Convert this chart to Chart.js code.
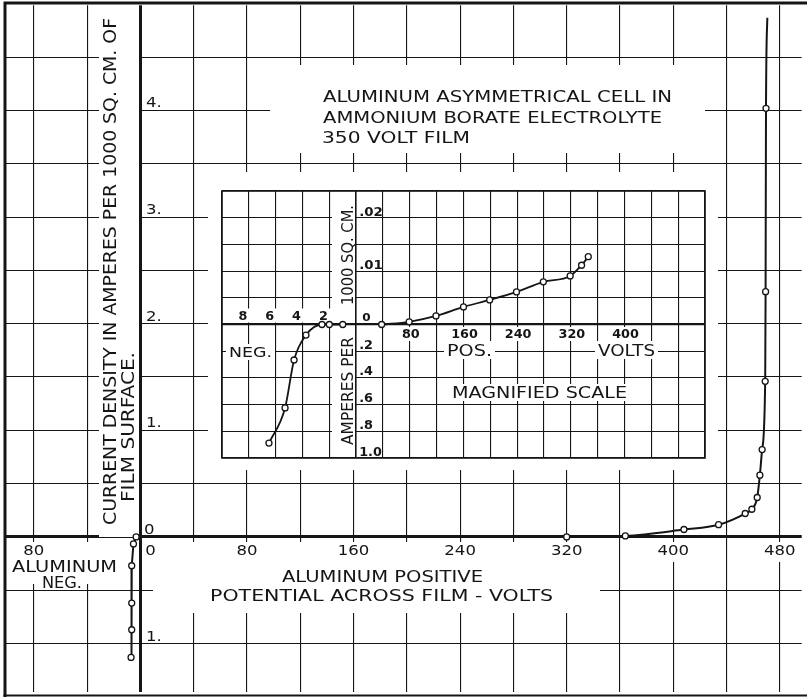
<!DOCTYPE html>
<html>
<head>
<meta charset="utf-8">
<script src="https://cdn.jsdelivr.net/npm/chart.js@4.4.1/dist/chart.umd.min.js"></script>
<style>
  html, body { margin: 0; padding: 0; background: #fff; }
  #wrap { position: relative; width: 807px; height: 697px; overflow: hidden; background: #fff; }
  #wrap canvas { position: absolute; }
  #main { left: 0; top: 0; }
  #inset { left: 208px; top: 172px; }
</style>
</head>
<body>
<div id="wrap">
  <canvas id="main" width="807" height="697"></canvas>
  <canvas id="inset" width="510" height="298"></canvas>
</div>
<script>
// ============================================================
// Aluminum asymmetrical cell — current density vs. film potential
// Main plot + magnified-scale inset
// ============================================================

const FONT = '"DejaVu Sans", sans-serif';
const INK = '#151515';

// ── DATA — main curve (volts across film, amperes per 1000 sq. cm.) ──
const posVolts = [320, 364, 408, 434, 454, 459, 463, 465, 466.7, 469.0, 469.3, 469.6, 470.6];
const posAmps  = [0, 0.01, 0.07, 0.115, 0.22, 0.26, 0.37, 0.58, 0.82, 1.46, 2.30, 4.02, 4.87];

// aluminum negative side (plotted to the left / below)
const negVolts = [3.2, 5.2, 6.5, 6.5, 6.5, 7.0];
const negAmps  = [0, 0.065, 0.27, 0.62, 0.87, 1.13];

// ── DATA — magnified scale inset ──
const insetPosVolts = [38, 79, 119, 160, 199, 239, 279, 319, 336, 346];
const insetPosAmps  = [0, 0.0005, 0.0016, 0.0033, 0.0046, 0.0061, 0.0080, 0.0091, 0.0111, 0.0127];
const insetNegVolts = [6.5, 5.3, 4.63, 3.74, 2.55, 2.0, 1.0];
const insetNegAmps  = [0.888, 0.625, 0.266, 0.079, 0, 0, 0];

// negative side of the inset is drawn at a different magnification
const NEG_V_MAG = 20;   // 1 neg. volt spans the room of 20 pos. volts
const NEG_A_DIV = 40;   // 1 neg. ampere spans the room of 1/40 pos. ampere

// ── TICK LABELS ──
const mainXTicks  = [-80, 0, 80, 160, 240, 320, 400, 480];
const mainXLabels = ['80', '0', '80', '160', '240', '320', '400', '480'];
const mainYTicks  = [4, 3, 2, 1, 0, -1];
const mainYLabels = ['4.', '3.', '2.', '1.', '0', '1.'];

const insetNegTicks  = [8, 6, 4, 2];
const insetPosTicks  = [80, 160, 240, 320, 400];
const insetUpTicks   = [0.02, 0.01];
const insetUpLabels  = ['.02', '.01'];
const insetDownTicks  = [0.2, 0.4, 0.6, 0.8, 1.0];
const insetDownLabels = ['.2', '.4', '.6', '.8', '1.0'];

const INSET_LEFT = 208, INSET_TOP = 172;

// ── text helpers (lettering is wide, so fit each string to its box) ──
function capText(ctx, str, x0, x1, yTop, yBot, bold) {
  const cap = yBot - yTop;
  ctx.font = (bold ? 'bold ' : '') + (cap / 0.73).toFixed(2) + 'px ' + FONT;
  const w = ctx.measureText(str).width;
  ctx.save();
  ctx.translate(x0, yBot);
  ctx.scale((x1 - x0) / w, 1);
  ctx.textAlign = 'left';
  ctx.textBaseline = 'alphabetic';
  ctx.fillText(str, 0, 0);
  ctx.restore();
}

function upText(ctx, str, x0, x1, yBot, yTop) {
  const cap = x1 - x0;
  ctx.font = (cap / 0.73).toFixed(2) + 'px ' + FONT;
  const w = ctx.measureText(str).width;
  ctx.save();
  ctx.translate(x1, yBot);
  ctx.rotate(-Math.PI / 2);
  ctx.scale((yBot - yTop) / w, 1);
  ctx.textAlign = 'left';
  ctx.textBaseline = 'alphabetic';
  ctx.fillText(str, 0, 0);
  ctx.restore();
}

// returns drawn width
function tickText(ctx, str, x, yBot, cap, sx, align, bold) {
  ctx.font = (bold ? 'bold ' : '') + (cap / 0.73).toFixed(2) + 'px ' + FONT;
  const w = ctx.measureText(str).width * sx;
  const left = align === 'center' ? x - w / 2 : x;
  ctx.save();
  ctx.translate(left, yBot);
  ctx.scale(sx, 1);
  ctx.textAlign = 'left';
  ctx.textBaseline = 'alphabetic';
  ctx.fillText(str, 0, 0);
  ctx.restore();
  return w;
}

function whiteOut(ctx, boxes) {
  ctx.fillStyle = '#fff';
  boxes.forEach(([x0, y0, x1, y1]) => ctx.fillRect(x0, y0, x1 - x0, y1 - y0));
}

// gaps left in the main grid for lettering
const MAIN_GAPS = [
  [99, 5, 139, 537],     // y title column
  [270, 65, 705, 153],   // title block
  [7, 542, 122, 584],    // ALUMINUM NEG.
  [153, 542, 600, 613],  // x title
  [143, 542, 158, 558],  // '0'
  [660, 542, 700, 562],  // '400'
  [768, 542, 807, 562],  // '480'
];

// ── MAIN CHART ───────────────────────────────────────────────
const mainDecor = {
  id: 'mainDecor',
  beforeDatasetsDraw(chart) {
    const ctx = chart.ctx;
    ctx.save();
    whiteOut(ctx, MAIN_GAPS);
    ctx.strokeStyle = INK;
    ctx.lineWidth = 3;
    ctx.beginPath();
    ctx.moveTo(3.5, 3); ctx.lineTo(807, 3);
    ctx.moveTo(5, 1.5); ctx.lineTo(5, 697);
    ctx.stroke();
    ctx.lineWidth = 2;
    ctx.beginPath();
    ctx.moveTo(3.5, 695.5); ctx.lineTo(807, 695.5);
    ctx.stroke();
    ctx.restore();
  },
  afterDatasetsDraw(chart) {
    const ctx = chart.ctx;
    const xs = chart.scales.x, ys = chart.scales.y;
    ctx.save();
    ctx.fillStyle = INK;

    capText(ctx, 'ALUMINUM ASYMMETRICAL CELL IN', 323, 672, 90, 102);
    capText(ctx, 'AMMONIUM BORATE ELECTROLYTE', 323, 662, 111, 123);
    capText(ctx, '350 VOLT FILM', 322, 470, 131, 143);

    upText(ctx, 'CURRENT DENSITY IN AMPERES PER 1000 SQ. CM. OF', 103, 116, 525, 18);
    upText(ctx, 'FILM SURFACE.', 121, 134, 502, 352);

    capText(ctx, 'ALUMINUM', 12, 117, 560, 572);
    capText(ctx, 'NEG.', 42, 82, 577, 588);
    capText(ctx, 'ALUMINUM POSITIVE', 282, 483, 570, 582);
    capText(ctx, 'POTENTIAL ACROSS FILM - VOLTS', 210, 553, 589, 601);

    mainXTicks.forEach((v, i) => {
      const cx = xs.getPixelForValue(v) + (v === 0 ? 10 : 0);
      tickText(ctx, mainXLabels[i], cx, 555, 10.5, 1.15, 'center');
    });
    mainYTicks.forEach((v, i) => {
      const py = ys.getPixelForValue(v);
      tickText(ctx, mainYLabels[i], v === 0 ? 144 : 146, py - 3, 10.5, 1.15, 'left');
    });
    ctx.restore();
  }
};

const axisWidth = (w0, w) => c => (c.tick && c.tick.value === 0) ? w0 : w;

new Chart(document.getElementById('main'), {
  type: 'scatter',
  data: {
    datasets: [
      {
        data: posVolts.map((v, i) => ({ x: v, y: posAmps[i] })),
        showLine: true,
        borderColor: INK,
        borderWidth: 2,
        cubicInterpolationMode: 'monotone',
        pointRadius: posVolts.map((_, i) => i === posVolts.length - 1 ? 0 : 3),
        pointBackgroundColor: '#fff',
        pointBorderColor: INK,
        pointBorderWidth: 1.3,
      },
      {
        data: negVolts.map((v, i) => ({ x: -v, y: -negAmps[i] })),
        showLine: true,
        borderColor: INK,
        borderWidth: 2,
        pointRadius: 3,
        pointBackgroundColor: '#fff',
        pointBorderColor: INK,
        pointBorderWidth: 1.3,
      }
    ]
  },
  options: {
    responsive: false,
    animation: false,
    devicePixelRatio: 1,
    layout: { padding: { left: 5, top: 3, right: 0, bottom: 2 } },
    plugins: { legend: { display: false }, tooltip: { enabled: false } },
    scales: {
      x: {
        type: 'linear', min: -101.4, max: 496.4,
        ticks: { display: false, stepSize: 40, includeBounds: false },
        grid: { color: INK, lineWidth: axisWidth(3, 1.1), drawTicks: false },
        border: { display: false },
      },
      y: {
        type: 'linear', min: -1.451, max: 4.986,
        ticks: { display: false, stepSize: 0.5, includeBounds: false },
        grid: { color: INK, lineWidth: axisWidth(3, 1.1), drawTicks: false },
        border: { display: false },
      }
    }
  },
  plugins: [mainDecor]
});

// ── INSET (MAGNIFIED SCALE) ──────────────────────────────────
const insetDecor = {
  id: 'insetDecor',
  beforeDraw(chart) {
    const ctx = chart.ctx;
    ctx.save();
    ctx.fillStyle = '#fff';
    ctx.fillRect(0, 0, chart.width, chart.height);
    ctx.restore();
  },
  beforeDatasetsDraw(chart) {
    const ctx = chart.ctx;
    const xs = chart.scales.x, ys = chart.scales.y;
    const a = chart.chartArea;
    const y0 = ys.getPixelForValue(0);
    ctx.save();
    // fixed gaps, in page coordinates
    ctx.translate(-INSET_LEFT, -INSET_TOP);
    const Y0 = y0 + INSET_TOP;
    whiteOut(ctx, [
      [332, a.top + INSET_TOP + 1, 355, Y0 - 2],
      [332, Y0 + 2, 355, a.bottom + INSET_TOP - 1],
      [226, 344, 275, 360],
      [444, 341, 495, 359],
      [595, 341, 658, 359],
      [448, 384, 631, 401],
    ]);
    ctx.restore();

    // gaps behind tick numbers
    ctx.save();
    ctx.fillStyle = '#fff';
    insetNegTicks.forEach(n => {
      const cx = xs.getPixelForValue(-n * NEG_V_MAG) - 6;
      ctx.fillRect(cx - 7, y0 - 16, 15, 14);
    });
    insetPosTicks.forEach(v => {
      const cx = xs.getPixelForValue(v) + 1;
      ctx.fillRect(cx - 15, y0 + 2.5, 30, 14);
    });
    // frame
    ctx.strokeStyle = INK;
    ctx.lineWidth = 1.6;
    ctx.strokeRect(a.left, a.top, a.right - a.left, a.bottom - a.top);
    ctx.restore();
  },
  afterDatasetsDraw(chart) {
    const ctx = chart.ctx;
    const xs = chart.scales.x, ys = chart.scales.y;
    const y0 = ys.getPixelForValue(0);
    const x0 = xs.getPixelForValue(0);
    ctx.save();
    ctx.fillStyle = INK;

    insetNegTicks.forEach(n => {
      tickText(ctx, String(n), xs.getPixelForValue(-n * NEG_V_MAG) - 6, y0 - 4.5, 8.5, 1.1, 'center', true);
    });
    insetPosTicks.forEach(v => {
      tickText(ctx, String(v), xs.getPixelForValue(v) + 1, y0 + 13, 8.5, 1.1, 'center', true);
    });
    tickText(ctx, '0', x0 + 6, y0 - 3.5, 8, 1.1, 'left', true);
    insetUpTicks.forEach((v, i) => {
      tickText(ctx, insetUpLabels[i], x0 + 3, ys.getPixelForValue(v) - 2, 8.5, 1.15, 'left', true);
    });
    insetDownTicks.forEach((v, i) => {
      tickText(ctx, insetDownLabels[i], x0 + 3, ys.getPixelForValue(-v / NEG_A_DIV) - 2.5, 8.5, 1.1, 'left', true);
    });

    ctx.translate(-INSET_LEFT, -INSET_TOP);
    capText(ctx, 'NEG.', 229, 272, 347, 357);
    capText(ctx, 'POS.', 447, 492, 344, 356);
    capText(ctx, 'VOLTS', 598, 655, 344, 356);
    capText(ctx, 'MAGNIFIED SCALE', 452, 627, 387, 398);
    upText(ctx, '1000 SQ. CM.', 342, 353, 305, 205);
    upText(ctx, 'AMPERES PER', 342, 353, 445, 337);
    ctx.restore();
  }
};

new Chart(document.getElementById('inset'), {
  type: 'scatter',
  data: {
    datasets: [
      {
        data: insetPosVolts.map((v, i) => ({ x: v, y: insetPosAmps[i] })),
        showLine: true,
        borderColor: INK,
        borderWidth: 1.8,
        cubicInterpolationMode: 'monotone',
        pointRadius: 3,
        pointBackgroundColor: '#fff',
        pointBorderColor: INK,
        pointBorderWidth: 1.3,
      },
      {
        data: insetNegVolts.map((v, i) => ({ x: -v * NEG_V_MAG, y: -insetNegAmps[i] / NEG_A_DIV })),
        showLine: true,
        borderColor: INK,
        borderWidth: 1.8,
        cubicInterpolationMode: 'monotone',
        pointRadius: 3,
        pointBackgroundColor: '#fff',
        pointBorderColor: INK,
        pointBorderWidth: 1.3,
      }
    ]
  },
  options: {
    responsive: false,
    animation: false,
    devicePixelRatio: 1,
    layout: { padding: { left: 14, top: 19, right: 13, bottom: 12 } },
    plugins: { legend: { display: false }, tooltip: { enabled: false } },
    scales: {
      x: {
        type: 'linear', min: -200, max: 520,
        ticks: { display: false, stepSize: 40, includeBounds: false },
        grid: { color: INK, lineWidth: axisWidth(1.6, 1.1), drawTicks: false },
        border: { display: false },
      },
      y: {
        type: 'linear', min: -0.025, max: 0.025,
        ticks: { display: false, stepSize: 0.005, includeBounds: false },
        grid: { color: INK, lineWidth: axisWidth(2.2, 1.1), drawTicks: false },
        border: { display: false },
      }
    }
  },
  plugins: [insetDecor]
});
</script>
</body>
</html>
